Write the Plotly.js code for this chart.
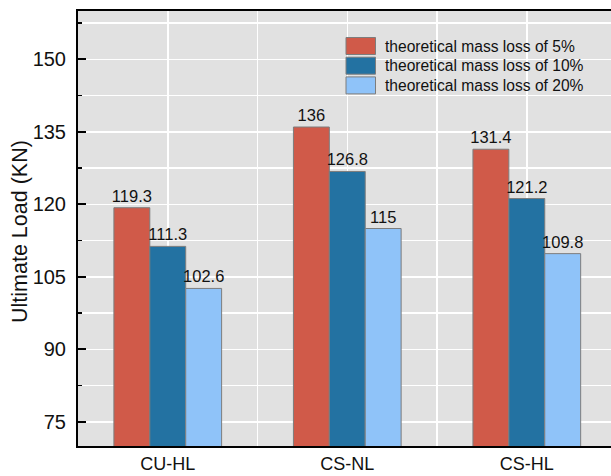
<!DOCTYPE html>
<html>
<head>
<meta charset="utf-8">
<script src="https://cdn.plot.ly/plotly-3.0.1.min.js"></script>
<style>
  html, body { margin: 0; padding: 0; background: #ffffff; }
  #chart { width: 611px; height: 476px; }
</style>
</head>
<body>
<div id="chart"></div>
<script>
// Specimen groups along the x axis
const categories = ['CU-HL', 'CS-NL', 'CS-HL'];

// Ultimate load (KN) for each theoretical mass loss level
const loss5 = [119.3, 136, 131.4];
const loss10 = [111.3, 126.8, 121.2];
const loss20 = [102.6, 115, 109.8];

const seriesNames = [
  'theoretical mass loss of 5%',
  'theoretical mass loss of 10%',
  'theoretical mass loss of 20%'
];
const seriesColors = ['#D05A49', '#2372A2', '#8FC3F9'];

const yTickVals = [75, 90, 105, 120, 135, 150];
const yTitle = 'Ultimate Load (KN)';

const FONT = 'Arial, "Liberation Sans", sans-serif';
const xPos = categories.map((_, i) => i);

function barTrace(values, idx) {
  return {
    type: 'bar',
    name: seriesNames[idx],
    x: xPos,
    y: values,
    text: values.map(v => String(v)),
    textposition: 'outside',
    constraintext: 'none',
    cliponaxis: false,
    textfont: { family: FONT, size: 16.5, color: '#111111' },
    marker: {
      color: seriesColors[idx],
      line: { color: '#7d7d7d', width: 1 }
    },
    showlegend: false,
    hoverinfo: 'skip'
  };
}

const data = [barTrace(loss5, 0), barTrace(loss10, 1), barTrace(loss20, 2)];

// Pixel helpers for the plot frame (paper coordinates)
const plotLeft = 78, plotRight = 611, plotTop = 11, plotBottom = 446;
const pw = plotRight - plotLeft, ph = plotBottom - plotTop;
const px = v => (v - plotLeft) / pw;
const py = v => (plotBottom - v) / ph;

// Legend box: coloured swatches with labels
const shapes = [];
const annotations = [];
seriesNames.forEach((name, i) => {
  const top = 37.5 + i * 19.7;
  shapes.push({
    type: 'rect', xref: 'paper', yref: 'paper',
    x0: px(346), x1: px(375.5), y0: py(top + 17), y1: py(top),
    fillcolor: seriesColors[i],
    line: { color: '#7d7d7d', width: 1 },
    layer: 'above'
  });
  annotations.push({
    xref: 'paper', yref: 'paper',
    x: px(383), y: py(top + 8.5),
    xanchor: 'left', yanchor: 'middle',
    text: name, showarrow: false,
    font: { family: FONT, size: 15.6, color: '#111111' }
  });
});

// Rotated y-axis title
annotations.push({
  xref: 'paper', yref: 'paper',
  x: px(20), y: py(232),
  xanchor: 'center', yanchor: 'middle',
  textangle: -90,
  text: yTitle, showarrow: false,
  font: { family: FONT, size: 21.5, color: '#111111' }
});

const layout = {
  width: 611,
  height: 476,
  margin: { l: plotLeft, r: 0, t: plotTop, b: 476 - plotBottom, pad: 0 },
  paper_bgcolor: '#ffffff',
  plot_bgcolor: '#E1E1E1',
  barmode: 'group',
  bargap: 0.4,
  bargroupgap: 0,
  font: { family: FONT, color: '#111111' },
  xaxis: {
    range: [-0.5, 2.469],
    tickmode: 'array',
    tickvals: xPos,
    ticktext: categories,
    tickfont: { family: FONT, size: 18, color: '#111111' },
    ticks: '',
    ticklabelstandoff: 0,
    showgrid: true,
    gridcolor: '#ffffff',
    gridwidth: 1.5,
    minor: { tickmode: 'linear', tick0: 0.5, dtick: 1, showgrid: true, gridcolor: '#ffffff', gridwidth: 1.5, ticks: '' },
    showline: true,
    linecolor: '#000000',
    linewidth: 2,
    mirror: true,
    zeroline: false,
    fixedrange: true
  },
  yaxis: {
    range: [70, 160],
    tickmode: 'array',
    tickvals: yTickVals,
    tickfont: { family: FONT, size: 20, color: '#111111' },
    ticks: 'inside',
    ticklen: 8,
    tickwidth: 2,
    tickcolor: '#000000',
    ticklabelstandoff: 6,
    showgrid: true,
    gridcolor: '#ffffff',
    gridwidth: 1.5,
    minor: {
      tickmode: 'linear', tick0: 0, dtick: 7.5,
      ticks: 'inside', ticklen: 4, tickwidth: 1.5, tickcolor: '#000000',
      showgrid: true, gridcolor: '#ffffff', gridwidth: 1.5
    },
    showline: true,
    linecolor: '#000000',
    linewidth: 2,
    zeroline: false,
    fixedrange: true
  },
  shapes: shapes,
  annotations: annotations
};

Plotly.newPlot('chart', data, layout, { displayModeBar: false, staticPlot: true });
</script>
</body>
</html>
